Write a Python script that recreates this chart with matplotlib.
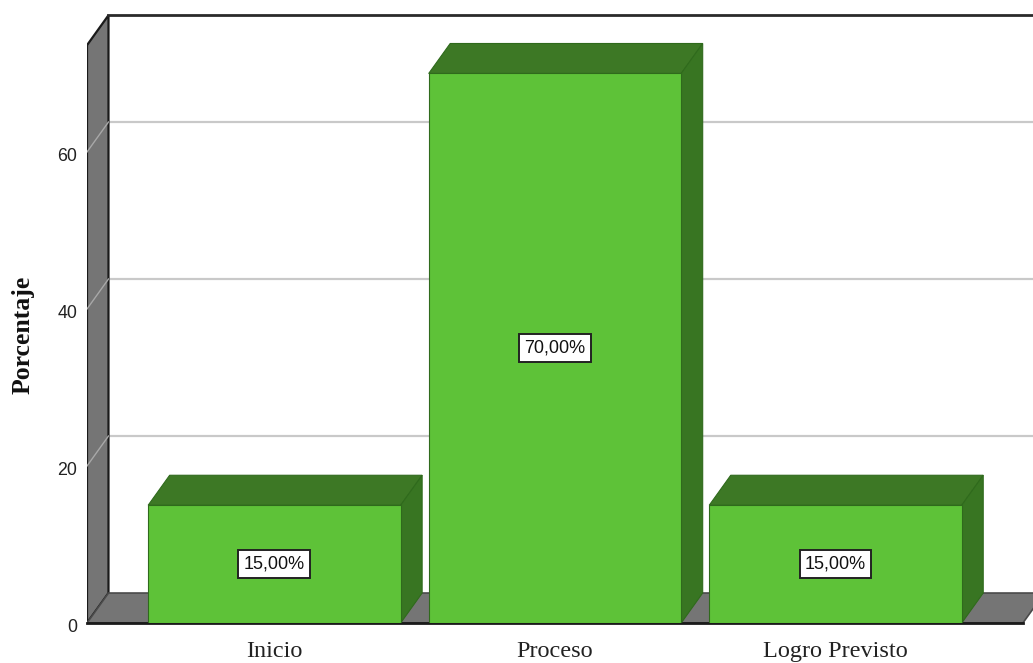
import matplotlib
matplotlib.use("Agg")
import matplotlib.pyplot as plt
from matplotlib.patches import Polygon
from matplotlib.transforms import ScaledTranslation

categories = ["Inicio", "Proceso", "Logro Previsto"]
values = [15, 70, 15]
value_labels = ["15,00%", "70,00%", "15,00%"]
y_ticks = [0, 20, 40, 60]

WALL = "#757575"
GRID = "#c9c9c9"
FRONT = "#5ec238"
TOP = "#3d7825"
SIDE = "#387522"
EDGE = "#2f6a1c"

bar_width = 0.9
dx = 0.0766  # depth of the fake 3d box, data units
dy = 3.82
x_min, x_max = -0.668, 2.704
y_max = 79.36
floor_end = 2.668
wall_top = 73.6


def main():
    fig = plt.figure(figsize=(10.33, 6.63), dpi=100)
    ax = fig.add_axes([87 / 1033, 40 / 663, 946 / 1033, 623 / 663])
    ax.set_xlim(x_min, x_max)
    ax.set_ylim(0, y_max)
    for spine in ax.spines.values():
        spine.set_visible(False)

    # back wall grid, then side wall and floor
    for t in y_ticks[1:]:
        ax.plot([x_min + dx, x_max], [t + dy, t + dy], color=GRID, lw=1.6, zorder=1)
    ax.add_patch(Polygon([(x_min, 0), (x_min + dx, dy), (x_min + dx, wall_top + dy), (x_min, wall_top)],
                         fc=WALL, ec="#1a1a1a", lw=1.6, zorder=2))
    for t in y_ticks[1:]:
        ax.plot([x_min, x_min + dx], [t, t + dy], color="#a8a8a8", lw=1, zorder=3)
    ax.plot([x_min + dx, x_max], [wall_top + dy, wall_top + dy], color="#2a2a2a", lw=2, zorder=3, clip_on=False)
    ax.add_patch(Polygon([(x_min, 0), (floor_end, 0), (floor_end + dx, dy), (x_min + dx, dy)],
                         fc=WALL, ec="#4a4a4a", lw=1.2, zorder=3))
    ax.plot([x_min, floor_end], [0, 0], color="#1a1a1a", lw=2, zorder=4, clip_on=False)

    for i, (v, lab) in enumerate(zip(values, value_labels)):
        l = i - bar_width / 2
        r = i + bar_width / 2
        ax.add_patch(Polygon([(l, v), (r, v), (r + dx, v + dy), (l + dx, v + dy)],
                             fc=TOP, ec=EDGE, lw=0.8, zorder=5))
        ax.add_patch(Polygon([(r, 0), (r + dx, dy), (r + dx, v + dy), (r, v)],
                             fc=SIDE, ec=EDGE, lw=0.8, zorder=5))
        ax.add_patch(Polygon([(l, 0), (r, 0), (r, v), (l, v)],
                             fc=FRONT, ec=EDGE, lw=0.8, zorder=6))
        ax.text(i, v / 2, lab, ha="center", va="center", family="Liberation Sans", fontsize=13,
                color="#111111", zorder=7,
                bbox=dict(boxstyle="square,pad=0.3", fc="white", ec="#222222", lw=1.4))

    ax.set_yticks(y_ticks)
    ax.set_yticklabels([str(t) for t in y_ticks], family="Liberation Sans", fontsize=12.8, color="#222222")
    ax.set_xticks(range(len(categories)))
    ax.set_xticklabels(categories, family="Liberation Serif", fontsize=17.5, color="#222222")
    ax.tick_params(axis="y", length=0, pad=7)
    ax.tick_params(axis="x", length=0, pad=13)
    # tick numbers sit a little under their level in the original
    shift = ScaledTranslation(0, -2 / 72, fig.dpi_scale_trans)
    for label in ax.get_yticklabels():
        label.set_transform(label.get_transform() + shift)
    ax.set_ylabel("Porcentaje", family="Liberation Serif", fontweight="bold", fontsize=18.5, color="#111111")
    ax.yaxis.set_label_coords(-52 / 946, 288 / 623)

    fig.savefig("out.png", dpi=100)
    plt.close(fig)


if __name__ == "__main__":
    main()
